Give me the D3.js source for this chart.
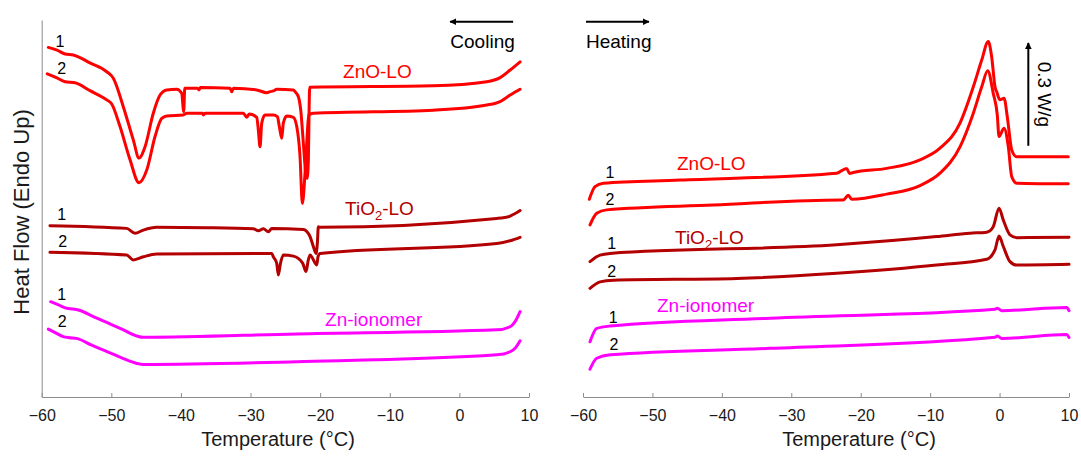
<!DOCTYPE html>
<html>
<head>
<meta charset="utf-8">
<script src="https://cdn.jsdelivr.net/npm/d3@7"></script>
<style>
  body { margin: 0; background: #fff; }
  text { font-family: "Liberation Sans", Arial, Helvetica, sans-serif; }
</style>
</head>
<body>
<svg id="chart" width="1081" height="457"></svg>
<script>
// tick labels shared by both panels
const tempTicks = [-60, -50, -40, -30, -20, -10, 0, 10];

// cooling scans: [temperature °C, heat flow W/g (stacked with offsets)]
const coolZnO1 = [[-59.05,1.020],[-57.8,1.012],[-56.65,1.001],[-55.46,0.998],[-53.0,0.974],[-50.66,0.949],[-49.71,0.930],[-48.28,0.847],[-46.84,0.750],[-46.02,0.697],[-45.16,0.730],[-43.97,0.828],[-43.00,0.881],[-42.04,0.896],[-40.60,0.898],[-39.89,0.886],[-39.60,0.833],[-39.45,0.901],[-37.6,0.901],[-37.4,0.896],[-37.2,0.903],[-32.94,0.901],[-32.70,0.891],[-32.45,0.901],[-29.11,0.896],[-27.67,0.888],[-27.2,0.891],[-26.72,0.893],[-26.24,0.898],[-23.85,0.896],[-23.61,0.891],[-23.13,0.876],[-22.79,0.837],[-22.41,0.740],[-22.07,0.653],[-21.88,0.638],[-21.69,0.692],[-21.58,0.850],[-21.50,0.904],[-3.74,0.908],[3.94,0.920],[5.85,0.932],[7.29,0.954],[8.72,0.978]];
const coolZnO2 = [[-59.20,0.943],[-57.9,0.932],[-56.65,0.920],[-55.22,0.917],[-53.0,0.893],[-50.66,0.867],[-49.94,0.855],[-48.75,0.789],[-47.31,0.692],[-46.02,0.625],[-44.91,0.662],[-43.72,0.760],[-42.76,0.813],[-42.04,0.820],[-39.66,0.823],[-39.17,0.828],[-36.9,0.828],[-36.78,0.823],[-36.5,0.828],[-31.03,0.828],[-30.55,0.816],[-30.2,0.826],[-29.11,0.816],[-28.88,0.779],[-28.64,0.730],[-28.39,0.799],[-27.92,0.823],[-26.72,0.823],[-26.15,0.818],[-25.86,0.789],[-25.52,0.755],[-25.29,0.799],[-24.80,0.820],[-23.85,0.816],[-23.36,0.789],[-22.89,0.701],[-22.56,0.565],[-22.17,0.654],[-21.9,0.750],[-21.64,0.823],[-20.98,0.828],[-3.74,0.837],[3.94,0.852],[5.85,0.862],[7.29,0.881],[8.72,0.898]];
const coolTiO1 = [[-58.81,0.500],[-47.79,0.492],[-46.59,0.478],[-45.40,0.487],[-43.48,0.495],[-36.29,0.494],[-29.60,0.491],[-28.88,0.485],[-28.16,0.491],[-27.44,0.482],[-26.95,0.492],[-22.41,0.489],[-21.45,0.468],[-20.98,0.439],[-20.59,0.419],[-20.40,0.450],[-20.26,0.497],[-20.01,0.495],[5.37,0.521],[7.29,0.528],[8.72,0.544]];
const coolTiO2 = [[-58.81,0.422],[-47.79,0.414],[-46.84,0.400],[-45.40,0.409],[-43.48,0.417],[-26.95,0.419],[-26.72,0.409],[-26.24,0.390],[-26.01,0.356],[-25.70,0.390],[-25.29,0.414],[-23.85,0.411],[-22.50,0.390],[-22.03,0.366],[-21.70,0.400],[-21.45,0.414],[-20.73,0.391],[-20.49,0.385],[-20.30,0.410],[-20.01,0.419],[5.37,0.448],[7.29,0.456],[8.72,0.466]];
const coolZn1 = [[-58.71,0.278],[-57.5,0.268],[-56.41,0.259],[-55.6,0.257],[-54.74,0.254],[-52.5,0.234],[-50.5,0.216],[-48.4,0.197],[-46.35,0.178],[-45.40,0.174],[-23.36,0.184],[5.37,0.196],[7.29,0.205],[8.0,0.220],[8.72,0.249]];
const coolZn2 = [[-59.05,0.198],[-58.0,0.187],[-56.90,0.176],[-56.0,0.173],[-55.0,0.171],[-52.8,0.151],[-50.7,0.133],[-48.5,0.114],[-46.35,0.098],[-45.40,0.095],[-23.36,0.103],[5.37,0.123],[7.29,0.132],[8.0,0.142],[8.72,0.164]];

// heating scans
const heatZnO1 = [[-59.09,0.577],[-58.27,0.614],[-57.08,0.624],[-46.03,0.633],[-23.46,0.653],[-22.02,0.667],[-21.60,0.652],[-21.07,0.655],[-16.26,0.667],[-11.46,0.692],[-8.58,0.726],[-5.70,0.799],[-3.78,0.905],[-2.57,0.983],[-1.63,1.037],[-1.14,0.993],[-0.66,0.905],[-0.33,0.886],[-0.19,0.876],[0.06,0.867],[0.64,0.872],[1.11,0.818],[1.75,0.721],[2.47,0.701],[3.91,0.701],[9.90,0.701]];
const heatZnO2 = [[-58.99,0.502],[-58.03,0.536],[-56.59,0.546],[-41.23,0.560],[-22.98,0.575],[-22.51,0.575],[-21.79,0.589],[-21.30,0.577],[-16.26,0.592],[-11.46,0.617],[-8.58,0.653],[-5.70,0.730],[-3.78,0.828],[-2.57,0.905],[-1.71,0.952],[-0.91,0.886],[-0.33,0.823],[-0.08,0.760],[0.64,0.784],[1.26,0.730],[1.75,0.643],[2.47,0.624],[9.90,0.622]];
const heatTiO1 = [[-58.99,0.395],[-57.55,0.414],[-56.11,0.419],[-23.46,0.444],[-9.06,0.468],[-4.26,0.478],[-1.86,0.481],[-0.91,0.497],[-0.08,0.551],[0.54,0.516],[1.50,0.473],[2.47,0.465],[10.0,0.466]];
const heatTiO2 = [[-58.99,0.317],[-57.55,0.336],[-55.64,0.341],[-37.86,0.346],[-23.46,0.361],[-9.06,0.385],[-1.86,0.402],[-0.66,0.429],[-0.08,0.470],[0.54,0.439],[1.50,0.395],[2.47,0.385],[10.0,0.387]];
const heatZn1 = [[-58.99,0.161],[-58.03,0.200],[-56.11,0.207],[-33.07,0.230],[-0.66,0.256],[-0.33,0.259],[0.31,0.252],[9.67,0.261],[10.0,0.252]];
const heatZn2 = [[-58.99,0.081],[-58.03,0.113],[-56.11,0.123],[-33.07,0.142],[-0.66,0.174],[-0.33,0.178],[0.31,0.171],[9.67,0.182],[10.0,0.174]];

const colZnO = "#ff0000", colTiO = "#b30000", colZn = "#ff00ff";

const svg = d3.select("#chart");

const xCool = d3.scaleLinear().domain([-60, 10]).range([41.7, 529]);
const xHeat = d3.scaleLinear().domain([-60, 10]).range([583, 1069]);
const y = d3.scaleLinear().domain([0, 1.1]).range([397, 20]);

// arrow head
svg.append("defs").append("marker")
    .attr("id", "head")
    .attr("viewBox", "0 0 10 10")
    .attr("refX", 9).attr("refY", 5)
    .attr("markerWidth", 7).attr("markerHeight", 7)
    .attr("markerUnits", "userSpaceOnUse")
    .attr("orient", "auto")
  .append("path")
    .attr("d", "M0,0 L10,5 L0,10 z")
    .attr("fill", "#000");

function drawAxis(x, withY) {
    const g = svg.append("g")
        .attr("transform", `translate(0,${y(0)})`)
        .call(d3.axisBottom(x).tickValues(tempTicks).tickSize(-4).tickSizeOuter(0).tickPadding(13));
    g.select(".domain").attr("stroke", "#8c8c8c");
    g.selectAll(".tick line").attr("stroke", "#8c8c8c");
    g.selectAll(".tick text").attr("fill", "#1a1a1a").style("font-size", "16px");
    if (withY) {
        const gy = svg.append("g")
            .attr("transform", `translate(${x.range()[0]},0)`)
            .call(d3.axisLeft(y).tickValues([]).tickSizeOuter(0));
        gy.select(".domain").attr("stroke", "#8c8c8c");
    }
}
drawAxis(xCool, true);
drawAxis(xHeat, false);

function drawCurve(x, data, color) {
    const line = d3.line()
        .x(d => x(d[0]))
        .y(d => y(d[1]))
        .curve(d3.curveMonotoneX);
    svg.append("path")
        .datum(data)
        .attr("d", line)
        .attr("fill", "none")
        .attr("stroke", color)
        .attr("stroke-width", 3)
        .attr("stroke-linejoin", "round")
        .attr("stroke-linecap", "round");
}

drawCurve(xCool, coolZnO1, colZnO);
drawCurve(xCool, coolZnO2, colZnO);
drawCurve(xCool, coolTiO1, colTiO);
drawCurve(xCool, coolTiO2, colTiO);
drawCurve(xCool, coolZn1, colZn);
drawCurve(xCool, coolZn2, colZn);
drawCurve(xHeat, heatZnO1, colZnO);
drawCurve(xHeat, heatZnO2, colZnO);
drawCurve(xHeat, heatTiO1, colTiO);
drawCurve(xHeat, heatTiO2, colTiO);
drawCurve(xHeat, heatZn1, colZn);
drawCurve(xHeat, heatZn2, colZn);

// scan numbers
const scanLabels = [
    [xCool, -57.37, 1.021, "1"], [xCool, -57.13, 0.943, "2"],
    [xCool, -57.13, 0.516, "1"], [xCool, -56.98, 0.438, "2"],
    [xCool, -57.13, 0.283, "1"], [xCool, -57.05, 0.204, "2"],
    [xHeat, -56.11, 0.639, "1"], [xHeat, -56.11, 0.560, "2"],
    [xHeat, -55.87, 0.432, "1"], [xHeat, -55.87, 0.350, "2"],
    [xHeat, -55.64, 0.216, "1"], [xHeat, -55.54, 0.137, "2"]
];
scanLabels.forEach(d => {
    svg.append("text")
        .attr("x", d[0](d[1])).attr("y", y(d[2]))
        .attr("text-anchor", "middle")
        .style("font-size", "16px")
        .attr("fill", "#000")
        .text(d[3]);
});

// sample names
function sampleLabel(x, t, v, color, name, sub, rest) {
    const txt = svg.append("text")
        .attr("x", x(t)).attr("y", y(v))
        .attr("fill", color)
        .style("font-size", "19px");
    txt.append("tspan").text(name);
    if (sub) {
        txt.append("tspan").attr("dy", 5).style("font-size", "13px").text(sub);
        txt.append("tspan").attr("dy", -5).text(rest);
    }
}
sampleLabel(xCool, -16.71, 0.931, colZnO, "ZnO-LO");
sampleLabel(xCool, -16.42, 0.531, colTiO, "TiO", "2", "-LO");
sampleLabel(xCool, -19.29, 0.207, colZn, "Zn-ionomer");
sampleLabel(xHeat, -46.46, 0.662, colZnO, "ZnO-LO");
sampleLabel(xHeat, -46.75, 0.446, colTiO, "TiO", "2", "-LO");
sampleLabel(xHeat, -49.34, 0.248, colZn, "Zn-ionomer");

// direction arrows
svg.append("line")
    .attr("x1", xCool(7.72)).attr("x2", xCool(-1.33))
    .attr("y1", y(1.095)).attr("y2", y(1.095))
    .attr("stroke", "#000").attr("stroke-width", 2)
    .attr("marker-end", "url(#head)");
svg.append("text")
    .attr("x", xCool(-1.3)).attr("y", y(1.018))
    .style("font-size", "19px")
    .text("Cooling");

svg.append("line")
    .attr("x1", xHeat(-59.57)).attr("x2", xHeat(-50.5))
    .attr("y1", y(1.095)).attr("y2", y(1.095))
    .attr("stroke", "#000").attr("stroke-width", 2)
    .attr("marker-end", "url(#head)");
svg.append("text")
    .attr("x", xHeat(-59.57)).attr("y", y(1.018))
    .style("font-size", "19px")
    .text("Heating");

// 0.3 W/g scale bar
const barT = 4.14, barBase = 0.733;
svg.append("line")
    .attr("x1", xHeat(barT)).attr("x2", xHeat(barT))
    .attr("y1", y(barBase)).attr("y2", y(barBase + 0.3))
    .attr("stroke", "#000").attr("stroke-width", 2)
    .attr("marker-end", "url(#head)");
svg.append("text")
    .attr("transform", `translate(${xHeat(barT) + 10},${y(barBase + 0.15)}) rotate(90)`)
    .attr("text-anchor", "middle")
    .style("font-size", "19px")
    .text("0.3 W/g");

// axis titles
svg.append("text")
    .attr("x", 278).attr("y", 446)
    .attr("text-anchor", "middle")
    .style("font-size", "20px")
    .attr("fill", "#1a1a1a")
    .text("Temperature (°C)");
svg.append("text")
    .attr("x", 859).attr("y", 446)
    .attr("text-anchor", "middle")
    .style("font-size", "20px")
    .attr("fill", "#1a1a1a")
    .text("Temperature (°C)");
svg.append("text")
    .attr("transform", "translate(29,212) rotate(-90)")
    .attr("text-anchor", "middle")
    .style("font-size", "22px")
    .attr("fill", "#1a1a1a")
    .text("Heat Flow (Endo Up)");
</script>
</body>
</html>
